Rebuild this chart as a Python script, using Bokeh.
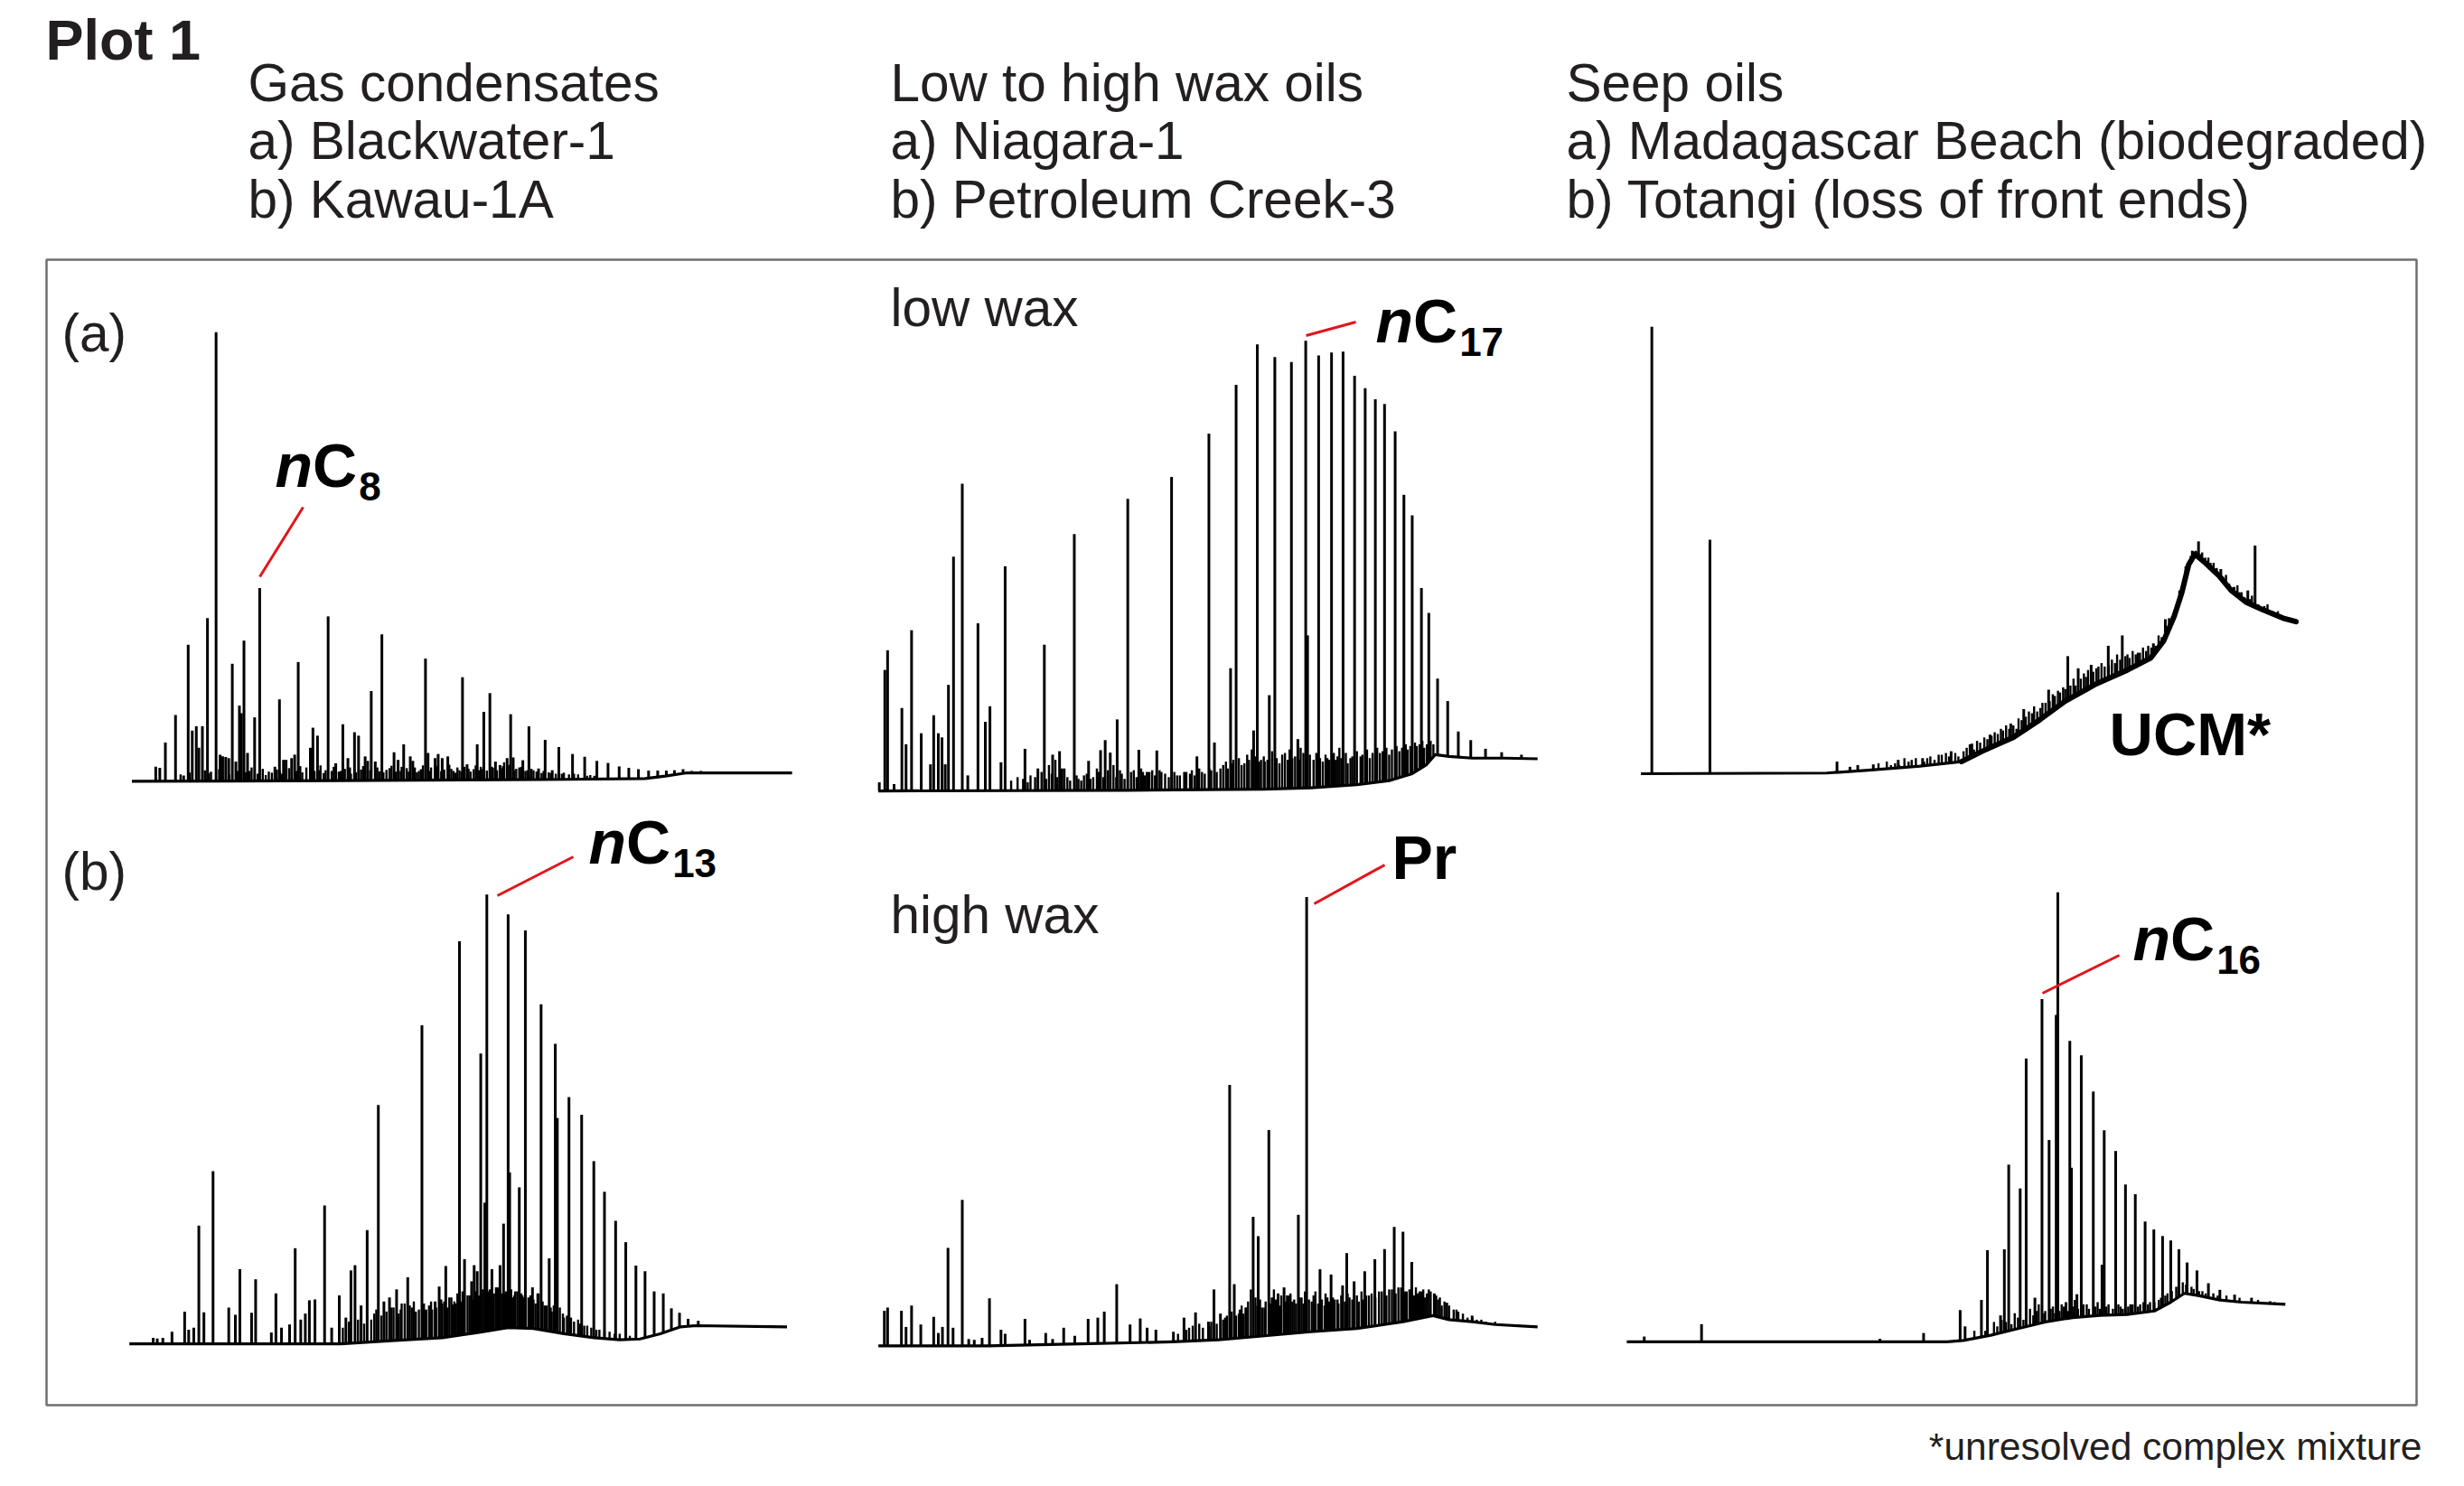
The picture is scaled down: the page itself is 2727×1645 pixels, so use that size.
import numpy as np
from bokeh.plotting import figure
from bokeh.models import Range1d
from bokeh.embed import file_html
from bokeh.resources import INLINE
from bokeh.core.properties import value

# ---------------------------------------------------------------- data
# retention time (min), detector response (mV); every chromatogram scaled on its own
# ---- (a) Blackwater-1 gas condensate
A1_BASE = [(9.4, 0.0), (30.0, 0.2), (50.0, 0.5), (60.0, 0.8), (62.0, 1.5), (64.0, 2.4), (74.5, 2.4)]
A1_PEAKS = [(11.75, 4.2), (12.15, 3.9), (12.7, 11.2), (13.7, 19.2), (14.5, 1.7), (14.95, 39.5), (15.35, 14.7),
            (15.75, 15.9), (16.0, 9.7), (16.35, 15.9), (16.85, 47.2), (17.7, 129.9), (18.1, 7.7), (18.35, 7.2),
            (18.65, 7.0), (18.95, 6.7), (19.3, 34.0), (19.65, 5.7), (20.0, 21.9), (20.2, 19.7), (20.45, 40.7),
            (20.8, 8.2), (21.5, 18.5), (22.0, 55.9), (23.5, 4.2), (23.95, 23.7), (24.35, 6.2), (24.6, 6.2),
            (25.15, 6.7), (25.45, 7.7), (25.8, 34.5), (27.0, 9.7), (27.25, 15.5), (27.7, 13.2), (28.75, 47.7),
            (29.5, 5.2), (30.2, 16.5), (30.7, 6.7), (31.35, 14.2), (31.75, 13.2), (32.4, 7.2), (32.65, 5.9),
            (33.0, 26.1), (33.4, 5.7), (34.05, 42.5), (35.25, 8.4), (35.65, 6.2), (36.2, 10.7), (36.85, 7.2),
            (37.1, 5.9), (38.35, 35.5), (38.6, 8.2), (39.3, 6.7), (39.6, 7.9), (40.0, 6.7), (40.55, 7.2),
            (42.0, 30.1), (42.45, 4.9), (43.45, 10.7), (44.1, 20.1), (44.7, 25.5), (45.25, 5.7), (45.7, 4.7),
            (46.4, 6.7), (46.75, 19.4), (47.0, 6.9), (47.95, 6.1), (48.55, 15.9), (49.5, 3.7), (50.15, 12.0),
            (50.85, 3.2), (51.5, 9.9), (52.85, 7.9), (54.05, 7.1), (55.25, 5.9), (56.35, 5.3), (57.45, 4.3),
            (58.4, 3.9), (59.35, 3.5), (60.35, 3.1), (61.25, 3.1), (62.1, 3.1), (62.9, 3.2), (63.75, 3.5),
            (64.6, 3.0), (65.5, 3.0)]
A1_MINOR = [(14.2, 2.0), (15.1, 2.5), (16.6, 3.2), (17.0, 2.4), (17.2, 2.8), (18.0, 3.5), (19.0, 2.0), (19.8, 3.0),
            (20.6, 2.6), (21.0, 3.0), (21.2, 4.0), (21.8, 2.2), (22.3, 3.6), (22.6, 1.8), (22.9, 2.8), (23.2, 2.5),
            (23.7, 3.4), (24.0, 3.0), (24.2, 2.2), (24.9, 3.8), (25.6, 3.0), (26.0, 4.4), (26.2, 2.6), (26.6, 4.0),
            (27.4, 3.0), (27.9, 3.2), (28.0, 4.6), (28.3, 2.4), (28.5, 3.2), (29.1, 3.0), (29.3, 4.2), (29.8, 2.8),
            (30.0, 3.0), (30.4, 3.6), (30.9, 4.0), (31.0, 2.2), (31.5, 2.6), (32.0, 3.4), (32.2, 4.4), (32.9, 3.2),
            (33.6, 4.0), (33.8, 2.9), (34.2, 2.6), (34.5, 3.3), (34.8, 3.8), (35.0, 4.5), (35.4, 2.8), (35.9, 3.0),
            (36.0, 4.2), (36.5, 3.8), (36.7, 2.8), (37.3, 4.0), (37.5, 2.6), (37.7, 3.0), (37.9, 3.5), (38.1, 4.6),
            (38.8, 3.0), (38.9, 4.0), (39.5, 4.4), (39.9, 2.9), (40.2, 3.4), (40.7, 4.8), (40.9, 3.6), (41.1, 3.0),
            (41.3, 2.5), (41.5, 4.0), (41.7, 3.2), (41.9, 2.8), (42.2, 4.2), (42.6, 3.6), (42.8, 2.8), (43.1, 3.5),
            (43.3, 4.6), (43.6, 3.2), (43.8, 4.2), (44.0, 3.6), (44.4, 3.1), (44.9, 4.2), (45.0, 3.9), (45.4, 3.2),
            (45.9, 3.8), (46.0, 4.4), (46.1, 5.5), (46.6, 4.8), (47.1, 3.2), (47.3, 3.6), (47.6, 4.0), (47.8, 4.2),
            (48.2, 3.0), (48.4, 3.2), (48.8, 3.6), (49.0, 3.2), (49.3, 2.8), (49.8, 2.4), (50.0, 3.0), (50.5, 2.6),
            (50.7, 2.4), (51.2, 2.2), (51.8, 2.2), (52.0, 2.5), (52.5, 2.0), (53.0, 2.2), (53.4, 2.0), (54.3, 1.6),
            (54.6, 1.8), (55.0, 1.6)]

# ---- (a) Niagara-1, low wax oil
A2_BASE = [(3.1, 0.0), (30.0, 0.2), (45.0, 0.5), (50.0, 0.9), (55.0, 1.8), (58.5, 3.0), (61.0, 5.0), (62.5, 7.5),
           (63.5, 10.5), (65.0, 10.0), (67.5, 9.5), (71.0, 9.5), (74.6, 9.3)]
A2_PEAKS = [(3.2, 2.5), (3.8, 35.0), (4.1, 40.7), (4.8, 2.0), (5.65, 24.0), (6.1, 13.5), (6.7, 46.5), (7.75, 16.7),
            (8.75, 7.7), (9.1, 21.9), (9.6, 16.7), (10.0, 15.5), (10.35, 7.7), (10.7, 30.7), (11.25, 67.8),
            (12.2, 88.9), (12.8, 4.5), (13.9, 48.5), (14.7, 20.0), (15.2, 24.5), (16.4, 8.3), (16.85, 65.0),
            (19.0, 12.2), (20.4, 6.5), (21.1, 42.3), (22.0, 10.5), (22.75, 11.5), (23.25, 6.5), (24.35, 74.3),
            (25.9, 8.7), (27.2, 11.8), (27.7, 14.7), (28.25, 11.1), (29.0, 20.7), (30.15, 84.5), (31.35, 11.9),
            (32.25, 5.5), (33.3, 11.7), (34.9, 90.8), (36.3, 5.5), (37.65, 10.0), (38.95, 103.4), (39.55, 14.0),
            (41.3, 35.5), (41.9, 117.5), (43.8, 17.5), (44.2, 129.2), (45.5, 27.7), (46.1, 125.5), (47.9, 124.1),
            (48.6, 15.0), (49.45, 130.2), (49.65, 45.0), (50.85, 126.0), (52.25, 126.8), (53.5, 127.1),
            (54.75, 120.1), (55.9, 116.5), (57.0, 113.3), (58.0, 111.9), (59.15, 104.0), (60.1, 85.7),
            (61.0, 79.7), (62.0, 58.7), (62.8, 51.5), (63.75, 32.5), (64.85, 26.0), (66.0, 17.2), (67.35, 14.7),
            (68.95, 12.2), (70.7, 11.2), (72.85, 10.5)]
A2_MINOR = [(17.5, 3.0), (18.2, 4.0), (18.8, 3.5), (19.3, 2.5), (19.6, 4.5), (20.1, 4.0), (20.8, 5.5), (21.3, 3.5),
            (21.6, 7.5), (21.9, 5.0), (22.3, 9.0), (22.5, 4.0), (23.0, 6.5), (23.6, 4.0), (23.9, 3.0), (24.6, 4.5),
            (24.8, 3.5), (25.1, 3.0), (25.4, 4.5), (25.7, 5.0), (26.1, 3.5), (26.4, 4.0), (26.8, 6.5), (27.0, 5.5),
            (27.5, 4.0), (28.0, 6.0), (28.6, 7.5), (28.9, 4.0), (29.3, 6.0), (29.5, 5.0), (29.8, 3.5), (30.5, 5.5),
            (30.8, 6.0), (31.1, 4.0), (31.6, 6.5), (31.8, 5.5), (32.0, 4.5), (32.5, 5.5), (32.8, 6.0), (33.1, 4.5),
            (33.6, 6.0), (33.8, 5.5), (34.2, 5.0), (34.6, 4.0), (35.2, 5.5), (35.5, 4.5), (35.8, 4.5), (36.5, 5.5),
            (36.9, 5.0), (37.1, 6.0), (37.4, 4.5), (37.9, 6.5), (38.2, 5.5), (38.5, 5.0), (39.0, 6.5), (39.2, 6.0),
            (39.8, 5.5), (40.2, 6.5), (40.5, 7.5), (40.8, 8.5), (41.0, 6.5), (41.5, 8.0), (41.6, 9.0), (42.2, 9.5),
            (42.5, 7.5), (42.8, 8.0), (43.1, 10.5), (43.3, 9.0), (43.6, 12.0), (44.0, 10.0), (44.4, 8.5),
            (44.6, 9.0), (44.9, 10.0), (45.0, 8.5), (45.3, 9.0), (45.8, 11.5), (46.3, 9.5), (46.6, 8.0), (46.9, 10.5),
            (47.2, 11.0), (47.5, 9.0), (47.7, 12.0), (48.0, 9.5), (48.3, 10.0), (48.8, 9.0), (48.9, 12.5),
            (49.2, 11.0), (49.9, 10.5), (50.3, 9.0), (50.6, 11.0), (51.0, 9.5), (51.3, 8.5), (51.6, 10.5),
            (51.8, 9.5), (52.0, 9.0), (52.5, 11.0), (52.7, 9.0), (52.9, 10.0), (53.1, 12.5), (53.3, 9.5), (53.8, 11.0),
            (54.0, 8.0), (54.3, 9.5), (54.5, 10.0), (55.0, 11.5), (55.4, 10.0), (55.6, 10.5), (56.1, 12.0),
            (56.4, 9.5), (56.7, 11.0), (57.2, 12.5), (57.5, 11.0), (57.8, 11.5), (58.2, 12.5), (58.5, 10.5),
            (58.8, 12.0), (59.3, 13.0), (59.6, 11.5), (59.9, 12.5), (60.3, 13.5), (60.5, 12.0), (60.8, 13.0),
            (61.3, 14.0), (61.5, 13.0), (61.8, 13.5), (62.1, 14.5), (62.3, 12.5), (62.6, 13.5), (63.0, 14.5),
            (63.3, 13.5)]

# ---- (a) Madagascar Beach seep oil (biodegraded, UCM hump)
A3_BASE = [(3.1, 0.0), (21.0, 0.2), (25.0, 1.0), (30.0, 2.2), (34.0, 3.5), (36.0, 6.5), (39.0, 10.5), (41.5, 15.5),
           (44.0, 21.0), (47.0, 26.0), (50.0, 30.0), (52.25, 33.5), (53.5, 38.5), (54.5, 45.5), (55.25, 52.5),
           (55.9, 60.5), (56.5, 63.5), (57.5, 61.0), (58.75, 57.5), (60.0, 53.0), (61.5, 49.5), (63.0, 47.5),
           (65.0, 45.0), (66.25, 44.0)]
A3_PEAKS = [(4.15, 129.3), (9.75, 67.7), (22.0, 3.5), (23.25, 2.0), (24.0, 2.5), (25.5, 2.7), (27.9, 4.0),
            (30.25, 4.5), (33.0, 6.5), (35.0, 8.7), (36.75, 11.3), (38.75, 14.5), (40.0, 18.7), (42.4, 24.3),
            (44.25, 34.0), (45.25, 30.5), (46.5, 31.5), (48.15, 37.0), (49.5, 40.0), (52.5, 37.7), (53.65, 44.7),
            (56.25, 64.5), (56.85, 67.2), (59.0, 59.2), (60.25, 54.0), (61.6, 53.0), (62.3, 66.0)]
A3_MINOR = [(26.0, 3.0), (26.8, 3.5), (27.2, 2.5), (27.6, 3.0), (28.0, 2.5), (28.5, 4.5), (28.9, 3.5), (29.2, 4.0),
            (29.6, 4.5), (30.4, 3.5), (30.7, 4.5), (31.0, 5.0), (31.4, 4.0), (31.8, 5.5), (32.1, 5.5), (32.5, 6.0),
            (32.8, 5.0), (33.4, 6.0), (33.7, 5.0), (34.2, 6.5), (34.5, 7.5), (34.8, 8.5), (35.2, 7.0), (35.5, 9.5),
            (35.8, 9.0), (36.2, 10.5), (36.5, 10.0), (36.9, 11.0), (37.2, 12.0), (37.5, 11.5), (37.8, 13.0),
            (38.0, 12.5), (38.3, 14.0), (38.6, 13.0), (39.0, 14.0), (39.3, 13.0), (39.5, 16.0), (39.8, 15.5),
            (40.2, 16.5), (40.5, 18.0), (40.8, 17.5), (41.0, 19.5), (41.3, 18.0), (41.6, 19.0), (41.8, 20.5),
            (42.1, 20.5), (42.5, 21.0), (42.8, 23.0), (43.0, 22.5), (43.3, 24.0), (43.5, 23.5), (43.8, 25.0),
            (44.0, 24.5), (44.5, 25.5), (44.8, 27.5), (45.0, 25.5), (45.5, 27.5), (45.8, 29.0), (46.0, 28.0),
            (46.2, 30.0), (46.7, 29.5), (47.0, 30.5), (47.2, 31.0), (47.5, 32.0), (47.8, 31.0), (48.2, 31.5),
            (48.5, 33.0), (48.8, 32.0), (49.0, 34.5), (49.3, 33.0), (49.8, 34.0), (50.0, 34.5), (50.2, 33.5),
            (50.5, 35.5), (50.8, 34.5), (51.0, 35.0), (51.2, 35.0), (51.5, 36.5), (51.8, 35.5), (52.0, 37.0),
            (52.3, 36.5), (52.7, 37.0), (53.0, 40.0), (53.3, 39.5), (53.8, 42.5), (54.0, 45.0), (54.3, 45.5),
            (54.8, 49.0), (55.0, 53.0), (55.4, 54.5), (55.6, 60.0), (55.8, 60.5), (56.1, 63.0), (56.6, 64.5),
            (57.0, 63.5), (57.2, 64.0), (57.5, 62.5), (57.8, 62.5), (58.0, 61.0), (58.3, 61.0), (58.6, 59.5),
            (59.2, 57.0), (59.5, 57.5), (59.8, 55.0), (60.3, 54.0), (60.6, 54.5), (60.8, 52.5), (61.0, 52.5),
            (61.3, 51.0), (61.8, 50.5), (62.0, 51.5), (62.6, 49.0), (63.2, 48.5), (63.5, 49.0), (64.0, 47.0),
            (64.5, 47.0), (65.0, 45.5), (65.7, 45.0)]
A3_UCM_START = 34.0   # retention time where the unresolved complex mixture hump is well developed

# ---- (b) Kawau-1A gas condensate
B1_BASE = [(9.15, 0.0), (30.0, 0.0), (35.0, 0.8), (40.0, 1.5), (43.5, 2.8), (46.5, 4.0), (49.0, 3.8), (52.0, 2.5),
           (55.0, 1.5), (57.5, 1.0), (59.5, 1.2), (61.5, 2.5), (63.5, 4.2), (65.0, 4.5), (74.0, 4.2)]
B1_PEAKS = [(11.5, 1.5), (11.9, 1.3), (12.45, 1.5), (13.35, 3.0), (14.6, 8.0), (15.0, 3.5), (15.5, 4.0), (16.0, 29.3),
            (16.5, 7.8), (17.4, 42.8), (18.95, 9.0), (19.6, 7.2), (20.05, 18.5), (21.2, 7.7), (21.6, 16.0),
            (23.15, 2.8), (23.6, 12.5), (24.15, 4.0), (24.95, 4.8), (25.5, 23.7), (26.05, 6.0), (26.5, 7.5),
            (26.9, 10.8), (27.45, 11.0), (28.4, 34.3), (29.1, 4.0), (29.85, 12.0), (30.5, 6.5), (31.0, 18.2),
            (31.4, 19.5), (32.0, 9.5), (32.6, 28.2), (33.7, 59.2), (34.25, 10.5), (34.8, 11.5), (35.5, 13.5),
            (36.6, 16.5), (38.0, 79.0), (38.4, 8.5), (39.3, 10.5), (39.7, 14.2), (40.35, 19.3), (41.0, 9.8),
            (41.7, 99.8), (42.2, 21.0), (42.9, 15.5), (43.15, 19.5), (43.45, 18.0), (43.8, 72.0), (44.2, 35.0),
            (44.4, 111.4), (44.9, 18.5), (45.7, 19.5), (46.05, 29.8), (46.5, 106.5), (46.65, 42.5), (47.6, 38.8),
            (48.2, 102.5), (48.9, 14.0), (49.75, 84.2), (50.55, 21.2), (51.15, 74.4), (51.35, 56.0), (52.5, 61.2),
            (53.75, 56.8), (54.95, 45.3), (56.0, 37.7), (57.1, 30.5), (58.1, 25.2), (59.1, 19.4), (60.0, 18.0),
            (60.9, 13.0), (61.8, 12.5), (62.6, 8.8), (63.4, 7.7), (64.25, 6.2), (65.25, 5.7)]
B1_MINOR = [(30.2, 4.0), (30.8, 5.5), (31.7, 6.0), (32.3, 5.0), (33.0, 6.0), (33.3, 7.5), (33.5, 8.5), (34.0, 7.0),
            (34.5, 8.0), (35.0, 9.0), (35.2, 9.0), (35.7, 7.5), (35.9, 8.5), (36.0, 10.0), (36.3, 10.0), (36.8, 9.5),
            (37.0, 9.0), (37.2, 10.5), (37.4, 8.0), (37.7, 8.5), (38.2, 10.0), (38.7, 9.5), (38.9, 10.5), (39.0, 8.5),
            (39.4, 9.0), (39.9, 11.0), (40.0, 10.0), (40.2, 10.5), (40.5, 9.0), (40.7, 11.5), (40.9, 11.5),
            (41.2, 10.5), (41.3, 10.0), (41.5, 12.5), (41.9, 10.5), (42.0, 13.0), (42.5, 12.0), (42.7, 12.0),
            (43.0, 11.0), (43.3, 13.0), (43.6, 12.0), (44.0, 13.5), (44.6, 13.0), (44.7, 13.5), (45.0, 11.5),
            (45.1, 12.5), (45.3, 14.0), (45.5, 14.0), (45.9, 12.5), (46.2, 12.5), (46.3, 13.0), (46.8, 13.5),
            (46.9, 11.5), (47.1, 12.0), (47.2, 13.0), (47.4, 13.0), (47.8, 12.5), (47.9, 12.0), (48.0, 11.5),
            (48.5, 11.5), (48.7, 12.0), (49.0, 11.0), (49.2, 10.0), (49.4, 12.5), (49.5, 12.5), (49.9, 10.5),
            (50.1, 9.5), (50.3, 9.5), (50.7, 9.0), (50.8, 8.0), (51.0, 9.5), (51.6, 9.0), (51.9, 7.5), (52.0, 6.5),
            (52.3, 7.0), (52.7, 6.5), (53.0, 5.5), (53.4, 6.0), (53.6, 5.0), (54.0, 4.5), (54.3, 4.5), (54.7, 4.0),
            (55.2, 3.5), (55.5, 3.5), (56.0, 3.0), (56.5, 3.0), (57.0, 2.5), (57.5, 2.5), (58.5, 2.0)]

# ---- (b) Petroleum Creek-3, high wax oil
B2_BASE = [(3.1, 0.0), (15.0, 0.0), (25.0, 0.5), (35.0, 1.0), (40.0, 1.5), (45.0, 2.5), (50.0, 3.5), (55.0, 4.3),
           (60.0, 6.0), (63.25, 7.5), (65.0, 6.5), (67.5, 6.0), (70.0, 5.3), (74.6, 4.7)]
B2_PEAKS = [(3.75, 8.7), (4.1, 9.5), (5.6, 8.7), (6.1, 4.7), (6.7, 10.0), (7.7, 5.3), (9.1, 7.2), (9.6, 3.2),
            (10.05, 4.7), (10.65, 24.3), (11.2, 4.5), (12.2, 36.2), (12.9, 1.7), (13.5, 1.5), (14.35, 2.0),
            (15.15, 11.8), (16.4, 4.0), (16.85, 3.0), (19.0, 6.7), (19.5, 1.5), (21.25, 3.2), (22.0, 1.7),
            (23.2, 4.5), (24.4, 2.5), (25.85, 6.7), (26.9, 7.0), (27.6, 8.5), (28.95, 15.3), (30.4, 5.3),
            (31.5, 6.8), (32.25, 4.5), (33.2, 4.0), (35.1, 3.5), (36.25, 7.0), (37.5, 8.3), (38.9, 6.0),
            (39.5, 14.0), (40.2, 8.0), (41.2, 64.7), (41.7, 15.3), (42.95, 9.5), (43.75, 32.0), (44.3, 27.2),
            (44.75, 9.5), (45.45, 53.5), (45.8, 12.0), (46.45, 13.0), (47.1, 14.5), (47.45, 12.5), (48.65, 32.5),
            (49.4, 13.5), (49.55, 111.3), (51.0, 19.0), (52.2, 17.7), (53.45, 15.0), (53.9, 23.0), (54.7, 16.0),
            (55.85, 18.5), (56.95, 21.5), (58.0, 24.0), (59.05, 29.5), (60.0, 28.3), (60.95, 20.8), (61.6, 13.0),
            (62.0, 13.5), (63.4, 13.0), (64.75, 10.7), (67.5, 7.5)]
B2_MINOR = [(35.6, 3.0), (36.5, 4.0), (36.8, 4.5), (37.2, 5.0), (37.9, 5.5), (38.3, 4.5), (39.0, 5.0), (39.2, 6.0),
            (39.8, 5.5), (40.5, 6.5), (40.7, 7.0), (40.9, 7.5), (41.4, 8.5), (41.9, 7.5), (42.2, 8.0), (42.3, 9.0),
            (42.5, 10.0), (42.7, 8.0), (43.0, 9.5), (43.2, 11.0), (43.5, 14.0), (44.0, 12.0), (44.2, 10.0),
            (44.5, 11.5), (45.0, 9.5), (45.1, 11.0), (45.6, 10.5), (46.0, 14.0), (46.2, 11.5), (46.6, 10.0),
            (46.8, 12.5), (47.3, 11.0), (47.6, 12.5), (47.8, 13.0), (48.0, 11.0), (48.2, 11.5), (48.4, 10.5),
            (48.8, 12.0), (49.0, 12.0), (49.2, 10.5), (49.8, 11.5), (50.1, 11.0), (50.3, 12.5), (50.5, 13.5),
            (50.8, 10.5), (51.2, 11.5), (51.5, 10.0), (51.6, 13.0), (51.8, 12.0), (52.0, 11.0), (52.4, 12.0),
            (52.6, 11.5), (52.9, 11.5), (53.0, 10.5), (53.3, 12.5), (53.7, 11.0), (54.0, 13.0), (54.2, 12.0),
            (54.5, 11.5), (55.0, 12.5), (55.2, 11.0), (55.5, 13.5), (55.7, 11.5), (56.0, 12.5), (56.3, 12.5),
            (56.6, 13.0), (57.0, 12.0), (57.4, 13.5), (57.7, 13.5), (58.2, 12.5), (58.5, 14.0), (58.8, 14.0),
            (59.2, 13.0), (59.5, 14.5), (59.8, 14.5), (60.2, 13.5), (60.4, 13.5), (60.7, 14.0), (61.0, 13.0),
            (61.2, 12.5), (61.4, 14.5), (61.8, 13.5), (62.2, 14.0), (62.4, 12.0), (62.6, 13.0), (62.8, 14.0),
            (63.0, 13.5), (63.6, 12.5), (63.8, 11.5), (64.0, 12.0), (64.2, 10.0), (64.5, 11.0), (65.0, 10.0),
            (65.5, 9.0), (65.8, 9.0), (66.0, 8.5), (66.5, 8.0), (67.0, 7.0), (67.5, 7.0), (68.0, 6.5), (68.5, 6.5),
            (69.0, 6.0), (70.0, 6.0)]

# ---- (b) Totangi seep oil (loss of front ends)
B3_BASE = [(1.65, 0.0), (31.0, 0.0), (32.5, 0.3), (35.0, 1.5), (37.5, 3.0), (40.0, 4.5), (42.5, 5.5), (45.0, 6.0),
           (47.5, 6.2), (50.0, 7.0), (51.5, 9.0), (52.75, 11.0), (54.0, 10.5), (56.0, 9.5), (58.0, 9.0), (62.0, 8.5)]
B3_PEAKS = [(3.25, 1.2), (8.5, 4.0), (24.85, 0.7), (28.85, 2.0), (32.2, 7.2), (32.65, 3.5), (34.15, 9.5),
            (34.7, 20.8), (35.9, 6.0), (36.25, 21.0), (36.65, 40.2), (37.7, 34.8), (38.25, 64.3), (39.05, 10.0),
            (39.7, 77.8), (40.35, 45.8), (41.0, 74.2), (41.15, 102.0), (41.9, 9.0), (42.25, 68.3), (42.4, 39.5),
            (42.9, 10.8), (43.3, 65.0), (44.4, 56.8), (45.2, 17.5), (45.4, 48.0), (46.45, 43.3), (47.35, 35.7),
            (48.25, 33.5), (49.15, 27.3), (49.95, 25.5), (50.75, 24.0), (51.5, 23.0), (52.25, 21.0), (53.0, 18.0),
            (53.9, 16.2), (54.95, 13.3), (56.0, 11.8), (57.35, 10.7), (58.9, 10.0), (60.6, 9.2)]
B3_MINOR = [(33.5, 2.5), (34.5, 2.5), (35.3, 4.5), (35.6, 3.5), (36.0, 5.0), (36.4, 4.5), (36.9, 4.0), (37.2, 6.5),
            (37.5, 5.5), (38.0, 5.0), (38.6, 7.5), (38.9, 6.0), (39.2, 7.0), (39.4, 8.5), (39.9, 6.5), (40.0, 7.0),
            (40.5, 7.5), (40.7, 8.0), (40.9, 6.5), (41.3, 7.0), (41.5, 8.5), (41.7, 8.0), (42.1, 7.0), (42.6, 8.0),
            (42.7, 9.5), (43.0, 7.5), (43.5, 8.5), (43.8, 8.5), (44.0, 7.5), (44.6, 8.0), (44.8, 9.0), (45.0, 7.5),
            (45.6, 8.0), (45.8, 8.5), (46.2, 7.5), (46.7, 8.5), (46.9, 8.0), (47.1, 7.5), (47.6, 8.0), (47.8, 8.5),
            (48.0, 8.5), (48.5, 8.0), (48.7, 8.5), (49.0, 9.0), (49.4, 8.5), (49.6, 9.0), (50.0, 9.0), (50.4, 9.5),
            (50.6, 10.0), (51.0, 10.5), (51.2, 11.0), (51.6, 11.5), (52.0, 12.5), (52.2, 12.5), (52.6, 13.5),
            (52.9, 13.0), (53.4, 12.5), (53.6, 12.0), (54.1, 11.5), (54.4, 11.5), (54.7, 11.0), (55.4, 11.0),
            (55.8, 10.5), (56.6, 10.5), (57.8, 10.0), (59.5, 9.5), (61.0, 9.0)]

# ---------------------------------------------------------------- text
PLOT_TITLE = "Plot 1"
HEADERS = [["Gas condensates", "a) Blackwater-1", "b) Kawau-1A"],
           ["Low to high wax oils", "a) Niagara-1", "b) Petroleum Creek-3"],
           ["Seep oils", "a) Madagascar Beach (biodegraded)", "b) Totangi (loss of front ends)"]]
ROW_LABELS = ["(a)", "(b)"]
WAX_LABELS = ["low wax", "high wax"]
UCM_LABEL = "UCM*"
FOOTNOTE = "*unresolved complex mixture"

# ---------------------------------------------------------------- layout (page pixels)
W, H = 2711, 1629
FONT = value("Liberation Sans")
INK = "#231f20"
RED = "#e3141b"
DROP = 0.37   # em shift that puts the alphabetic baseline where wanted


def ty(y, size):
    return y - DROP * size


p = figure(width=W, height=H, output_backend="svg", toolbar_location=None,
           x_range=Range1d(0, W), y_range=Range1d(H, 0),
           x_axis_type=None, y_axis_type=None, min_border=0)
p.grid.visible = False
p.outline_line_color = None
p.background_fill_color = "white"
p.border_fill_color = "white"

# frame box round the six chromatograms
p.quad(left=[51], right=[2674], top=[287], bottom=[1555], fill_color=None,
       line_color="#6f6f6f", line_width=2.5)

PANELS = [
    (A1_BASE, A1_PEAKS, A1_MINOR, (40.0, 1162.3), (864.4, 481.7), None),
    (A2_BASE, A2_PEAKS, A2_MINOR, (940.0, 1960.4), (875.1, 492.4), None),
    (A3_BASE, A3_PEAKS, A3_MINOR, (1780.0, 2928.1), (856.0, 473.3), A3_UCM_START),
    (B1_BASE, B1_PEAKS, B1_MINOR, (40.0, 1162.3), (1487.1, 1040.7), None),
    (B2_BASE, B2_PEAKS, B2_MINOR, (940.0, 1960.4), (1489.4, 1042.9), None),
    (B3_BASE, B3_PEAKS, B3_MINOR, (1780.0, 2987.7), (1484.9, 997.1), None),
]

for base, peaks, minor, xt, yt, ucm in PANELS:
    sub = p.subplot(x_source=Range1d(0, 100), y_source=Range1d(0, 100),
                    x_target=Range1d(*xt), y_target=Range1d(*yt))
    brt, bab = np.array(base).T
    for pk, lw in ((minor, 2.4), (peaks, 3.0)):
        rt, ab = np.array(pk).T
        foot = np.interp(rt, brt, bab)
        sub.segment(x0=rt, y0=foot, x1=rt, y1=ab, line_color="black", line_width=lw)
    sub.line(brt, bab, line_color="black", line_width=3.2, line_join="round")
    if ucm is not None:
        keep = brt >= ucm
        sub.line(brt[keep], bab[keep], line_color="black", line_width=6, line_join="round",
                 line_cap="round")

# header text
TS = 58.5
p.text(x=[50], y=[ty(67, 63)], text=[PLOT_TITLE], text_font=FONT, text_font_size="63px",
       text_font_style="bold", text_color=INK, text_baseline="alphabetic")
hx, hy, ht = [], [], []
for col, lines in zip([274, 985, 1733], HEADERS):
    for yy, t in zip([113, 177, 242], lines):
        hx.append(col); hy.append(ty(yy, TS)); ht.append(t)
p.text(x=hx, y=hy, text=ht, text_font=FONT, text_font_size=f"{TS}px", text_color=INK,
       text_baseline="alphabetic")

# panel labels
p.text(x=[68, 68, 985, 985], y=[ty(v, TS) for v in (390, 986, 362, 1034)], text=ROW_LABELS + WAX_LABELS,
       text_font=FONT, text_font_size=f"{TS}px", text_color=INK, text_baseline="alphabetic")
p.text(x=[2334], y=[ty(837, 67)], text=[UCM_LABEL], text_font=FONT, text_font_size="67px",
       text_font_style="bold", text_color="black", text_baseline="alphabetic")
p.text(x=[2680], y=[ty(1617, 42.5)], text=[FOOTNOTE], text_font=FONT, text_font_size="42.5px",
       text_color=INK, text_baseline="alphabetic", text_align="right")

# peak annotations: n (bold italic) + C / Pr (bold) + subscript carbon number
ADV = {"n": 0.611, "C": 0.722, "P": 0.667, "r": 0.389}
ANNOT = [("n", "C", "8", 304, 540, (287, 638, 335, 561)),
         ("n", "C", "17", 1522, 380, (1445, 371, 1500, 356)),
         ("n", "C", "13", 651, 957, (550, 991, 634, 948)),
         ("", "Pr", "", 1540, 974, (1454, 1000, 1532, 957)),
         ("n", "C", "16", 2360, 1064, (2260, 1099, 2345, 1057))]
BIG, SMALL = 68, 44
for it, bd, sb, x0, y0, lead in ANNOT:
    p.segment(x0=[lead[0]], y0=[lead[1]], x1=[lead[2]], y1=[lead[3]], line_color=RED, line_width=3)
    x = x0
    if it:
        p.text(x=[x], y=[ty(y0, BIG)], text=[it], text_font=FONT, text_font_size=f"{BIG}px",
               text_font_style="bold italic", text_color="black", text_baseline="alphabetic")
        x += sum(ADV[c] for c in it) * BIG
    p.text(x=[x], y=[ty(y0, BIG)], text=[bd], text_font=FONT, text_font_size=f"{BIG}px",
           text_font_style="bold", text_color="black", text_baseline="alphabetic")
    x += sum(ADV[c] for c in bd) * BIG + 2
    if sb:
        p.text(x=[x], y=[ty(y0 + 14, SMALL)], text=[sb], text_font=FONT, text_font_size=f"{SMALL}px",
               text_font_style="bold", text_color="black", text_baseline="alphabetic")

open("out.html", "w").write(file_html(p, INLINE))
